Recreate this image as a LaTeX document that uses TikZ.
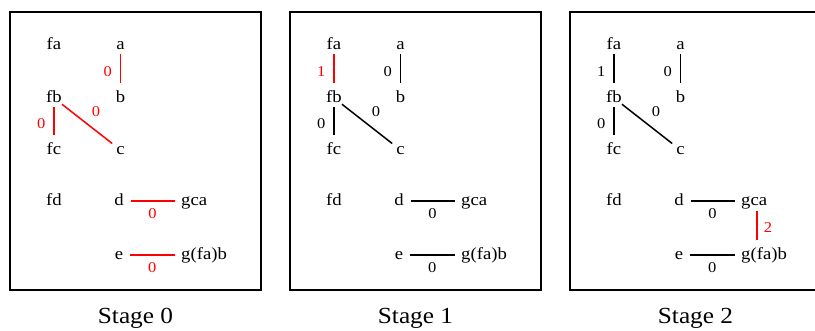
\documentclass[tikz,border=0pt]{standalone}
\usepackage{fontspec}
\newfontfamily\diagfont{Liberation Serif}[FakeStretch=1.1]
\usetikzlibrary{positioning}
\tikzset{
  vtx/.style={font=\diagfont\fontsize{17}{20}\selectfont, inner sep=0pt, text height=12pt, text depth=4pt},
  wgt/.style={font=\diagfont\fontsize{15}{18}\selectfont, inner sep=0pt},
  lnk/.style={line width=1.5pt},
  vlnk/.style={lnk, shorten <=1pt, shorten >=7pt},
  hlnk/.style={lnk, shorten <=7pt, shorten >=6pt},
  frame/.style={draw, line width=1.4pt, minimum width=251pt, minimum height=278pt},
  stagecap/.style={font=\diagfont\fontsize{23}{26}\selectfont, inner sep=0pt}
}
\begin{document}
\begin{tikzpicture}[x=1pt, y=-1pt]
  \useasboundingbox (0,0) rectangle (815,330);
  \foreach \s/\xs/\ec in {0/0/red,1/280/black,2/560/black}{
    \begin{scope}[xshift=\xs pt]
      \node[frame] (box\s) at (135.5,151) {};
      \node[stagecap, anchor=base] (cap\s) at (135.5,323) {Stage \s};
      \node[vtx] (fa\s) at (54,45) {fa};
      \node[vtx] (a\s) at (120.5,45) {a};
      \node[vtx] (fb\s) at (54,98) {fb};
      \node[vtx] (b\s) at (120.5,98) {b};
      \node[vtx] (fc\s) at (54,150) {fc};
      \node[vtx] (c\s) at (120.5,150) {c};
      \node[vtx] (fd\s) at (54,201) {fd};
      \node[vtx] (d\s) at (119,201) {d};
      \node[vtx, anchor=west] (gca\s) at (181,201) {gca};
      \node[vtx] (e\s) at (119,255) {e};
      \node[vtx, anchor=west] (gfab\s) at (181,255) {g(fa)b};
      \draw[vlnk, \ec] (a\s) -- node[wgt, left=8pt] (wab\s) {0} (b\s);
      \draw[vlnk, \ec] (fb\s) -- node[wgt, left=8pt] (wbc\s) {0} (fc\s);
      \draw[lnk, \ec, shorten >=5pt] (fb\s) -- node[wgt, xshift=7pt, yshift=14pt] (wfc\s) {0} (c\s);
      \draw[hlnk, \ec] (d\s) -- node[wgt, below=7pt] (wdg\s) {0} (gca\s);
      \draw[hlnk, \ec] (e\s) -- node[wgt, below=7pt] (weg\s) {0} (gfab\s);
    \end{scope}
  }
  % edges added at stage 1 and 2
  \draw[vlnk, red] (fa1) -- node[wgt, left=8pt] (wfa1) {1} (fb1);
  \draw[vlnk] (fa2) -- node[wgt, left=8pt] (wfa2) {1} (fb2);
  \draw[lnk, red, shorten <=2pt, shorten >=7pt] ([xshift=3pt]gca2.south)
    -- node[wgt, right=6pt] (wgg2) {2} ([xshift=3pt]gca2.south |- gfab2.north);
\end{tikzpicture}
\end{document}
